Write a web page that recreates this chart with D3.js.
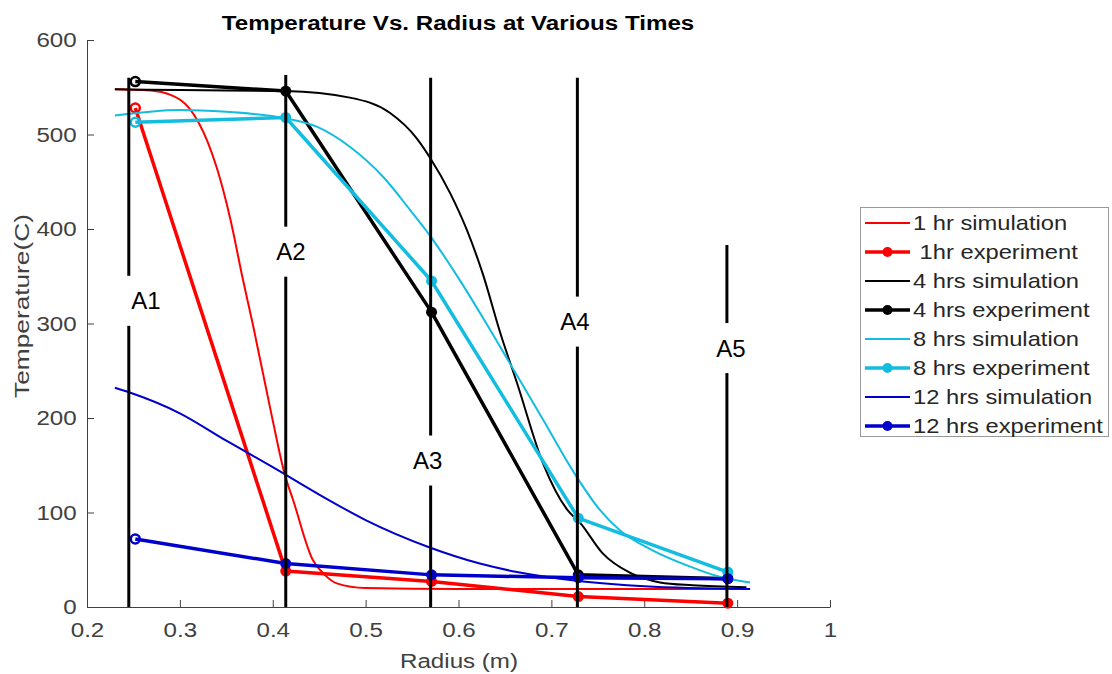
<!DOCTYPE html>
<meta charset="utf-8">
<script src="https://d3js.org/d3.v7.min.js"></script>
<style>
  body { margin: 0; background: #fff; }
  text { font-family: "Liberation Sans", Arial, sans-serif; }
</style>
<div id="chart"></div>
<script>

// experiment readings (radius in m, temperature in C)
var expRadius = [0.252, 0.414, 0.571, 0.729, 0.890];
var exp1hr  = [528, 38, 27, 11, 4];
var exp4hr  = [556, 546, 312, 34, 30];
var exp8hr  = [513, 518, 345, 94, 37];
var exp12hr = [72, 46, 34, 31, 30];

// simulation curves
var sim1Radius = [0.23, 0.26, 0.28, 0.29, 0.30, 0.31, 0.32, 0.33, 0.34, 0.354, 0.368, 0.379, 0.399, 0.413, 0.422, 0.443, 0.456, 0.469, 0.50, 0.60, 0.70, 0.80, 0.91];
var sim1Temp   = [548, 547, 545, 542, 537, 528, 513, 492, 464, 412, 346, 297, 202, 140, 113, 50, 34, 25, 20, 19, 19, 19, 19];

var sim4Radius = [0.23, 0.30, 0.414, 0.483, 0.526, 0.555, 0.569, 0.591, 0.609, 0.626, 0.645, 0.663, 0.691, 0.717, 0.731, 0.755, 0.785, 0.817, 0.852, 0.91];
var sim4Temp   = [548, 547, 546, 539, 523, 496, 476, 438, 399, 353, 290, 237, 152, 103, 89, 57, 36, 26, 23, 21];

var sim8Radius = [0.23, 0.30, 0.35, 0.414, 0.448, 0.483, 0.519, 0.548, 0.57, 0.60, 0.63, 0.66, 0.69, 0.727, 0.752, 0.774, 0.809, 0.846, 0.881, 0.914];
var sim8Temp   = [520, 526, 524, 517, 508, 487, 455, 420, 392, 348, 300, 250, 200, 138, 103, 81, 60, 44, 32, 26];

var sim12Radius = [0.23, 0.246, 0.30, 0.35, 0.40, 0.45, 0.50, 0.569, 0.623, 0.663, 0.734, 0.80, 0.914];
var sim12Temp   = [232, 227, 205, 176, 148, 119, 92, 63, 46, 37, 27, 22, 19];

// annotation markers A1..A5
var annoLabels = ["A1", "A2", "A3", "A4", "A5"];
var annoRadius = [0.245, 0.414, 0.570, 0.728, 0.889];
var annoTop    = [560, 563, 560, 560, 383];
var annoLabelRadius = [0.2635, 0.4195, 0.5669, 0.7253, 0.8932];
var annoLabelTemp   = [324, 376, 155, 302, 274];

var xTicks = [0.2, 0.3, 0.4, 0.5, 0.6, 0.7, 0.8, 0.9, 1];
var yTicks = [0, 100, 200, 300, 400, 500, 600];

var legendNames = ["1 hr simulation", " 1hr experiment", "4 hrs simulation", "4 hrs experiment",
                   "8 hrs simulation", "8 hrs experiment", "12 hrs simulation", "12 hrs experiment"];

var red = "#ff0000", black = "#000000", cyan = "#12bde0", blue = "#0000cd";

var series = [
  {type: "sim", color: red,   r: sim1Radius,  t: sim1Temp},
  {type: "exp", color: red,   r: expRadius,   t: exp1hr},
  {type: "sim", color: black, r: sim4Radius,  t: sim4Temp},
  {type: "exp", color: black, r: expRadius,   t: exp4hr},
  {type: "sim", color: cyan,  r: sim8Radius,  t: sim8Temp},
  {type: "exp", color: cyan,  r: expRadius,   t: exp8hr},
  {type: "sim", color: blue,  r: sim12Radius, t: sim12Temp},
  {type: "exp", color: blue,  r: expRadius,   t: exp12hr}
];

var W = 1112, H = 674;
var svg = d3.select("#chart").append("svg")
  .attr("width", W).attr("height", H);

var x = d3.scaleLinear().domain([0.2, 1]).range([87, 830]);
var y = d3.scaleLinear().domain([0, 600]).range([607, 40]);

var axisColor = "#404040";
var stretch = 1.15;   // the picture is a bit wider than tall, text too

// x axis (ticks pointing up into the plot)
var gx = svg.append("g")
  .attr("transform", "translate(0," + y(0) + ")")
  .call(d3.axisBottom(x).tickValues(xTicks).tickSizeInner(-7).tickSizeOuter(0)
        .tickFormat(function(d){ return d === 1 ? "1" : d3.format(".1f")(d); }));
gx.select(".domain").attr("stroke", axisColor);
gx.selectAll(".tick line").attr("stroke", axisColor);
gx.selectAll(".tick text").attr("fill", axisColor).attr("font-size", 21)
  .attr("font-family", "Liberation Sans, Arial, sans-serif").attr("y", 15)
  .attr("transform", "scale(" + stretch + ",1)");

// y axis (ticks pointing right)
var gy = svg.append("g")
  .attr("transform", "translate(" + x(0.2) + ",0)")
  .call(d3.axisLeft(y).tickValues(yTicks).tickSizeInner(-7).tickSizeOuter(0));
gy.select(".domain").attr("stroke", axisColor);
gy.selectAll(".tick line").attr("stroke", axisColor);
gy.selectAll(".tick text").attr("fill", axisColor).attr("font-size", 21)
  .attr("font-family", "Liberation Sans, Arial, sans-serif").attr("x", -9)
  .attr("transform", "scale(" + stretch + ",1)");

// title and axis labels
svg.append("text")
  .attr("transform", "translate(458,30) scale(" + stretch + ",1)")
  .attr("text-anchor", "middle")
  .attr("font-size", 21).attr("font-weight", "bold")
  .attr("fill", "#000")
  .text("Temperature Vs. Radius at Various Times");

svg.append("text")
  .attr("transform", "translate(459,668) scale(" + stretch + ",1)")
  .attr("text-anchor", "middle")
  .attr("font-size", 21).attr("fill", axisColor)
  .text("Radius (m)");

svg.append("text")
  .attr("transform", "translate(29,306) rotate(-90) scale(1.25,1)")
  .attr("text-anchor", "middle")
  .attr("font-size", 21).attr("fill", axisColor)
  .text("Temperature(C)");

// curves
var line = d3.line()
  .x(function(d){ return x(d[0]); })
  .y(function(d){ return y(d[1]); });

series.forEach(function(s) {
  var pts = s.r.map(function(r, i){ return [r, s.t[i]]; });
  svg.append("path")
    .datum(pts)
    .attr("fill", "none")
    .attr("stroke", s.color)
    .attr("stroke-width", s.type === "sim" ? 2 : 3.5)
    .attr("stroke-linejoin", "round")
    .attr("d", line.curve(s.type === "sim" ? d3.curveMonotoneX : d3.curveLinear));

  if (s.type === "exp") {
    svg.selectAll(null)
      .data(pts)
      .enter()
      .append("circle")
        .attr("cx", function(d){ return x(d[0]); })
        .attr("cy", function(d){ return y(d[1]); })
        .attr("r", function(d, i){ return i === 0 ? 4.5 : 5.5; })
        .attr("fill", function(d, i){ return i === 0 ? "none" : s.color; })
        .attr("stroke", s.color)
        .attr("stroke-width", function(d, i){ return i === 0 ? 2.5 : 0; });
  }
});

// annotation lines with their label boxes
annoRadius.forEach(function(r, i) {
  svg.append("line")
    .attr("x1", x(r)).attr("x2", x(r))
    .attr("y1", y(annoTop[i])).attr("y2", y(0))
    .attr("stroke", "#000").attr("stroke-width", 3);
});
annoLabels.forEach(function(lab, i) {
  var cx = x(annoLabelRadius[i]), cy = y(annoLabelTemp[i]);
  svg.append("rect")
    .attr("x", cx - 22).attr("y", cy - 25)
    .attr("width", 44).attr("height", 50)
    .attr("fill", "#fff");
  svg.append("text")
    .attr("x", cx).attr("y", cy)
    .attr("text-anchor", "middle")
    .attr("dominant-baseline", "central")
    .attr("font-family", "Lato, 'Open Sans', sans-serif")
    .attr("font-size", 24).attr("fill", "#000")
    .text(lab);
});

// legend
var legend = svg.append("g");
legend.append("rect")
  .attr("x", 860.5).attr("y", 207.5)
  .attr("width", 248).attr("height", 229)
  .attr("fill", "#fff").attr("stroke", "#9a9a9a").attr("stroke-width", 1);

series.forEach(function(s, i) {
  var ly = 223 + i * 29;
  legend.append("line")
    .attr("x1", 865).attr("x2", 910)
    .attr("y1", ly).attr("y2", ly)
    .attr("stroke", s.color)
    .attr("stroke-width", s.type === "sim" ? 2 : 3.5);
  if (s.type === "exp") {
    legend.append("circle")
      .attr("cx", 887.5).attr("cy", ly).attr("r", 5)
      .attr("fill", s.color);
  }
  legend.append("text")
    .attr("transform", "translate(913," + ly + ") scale(1.13,1)")
    .attr("dominant-baseline", "central")
    .attr("font-size", 21).attr("fill", "#262626")
    .style("white-space", "pre")
    .text(legendNames[i]);
});

</script>
